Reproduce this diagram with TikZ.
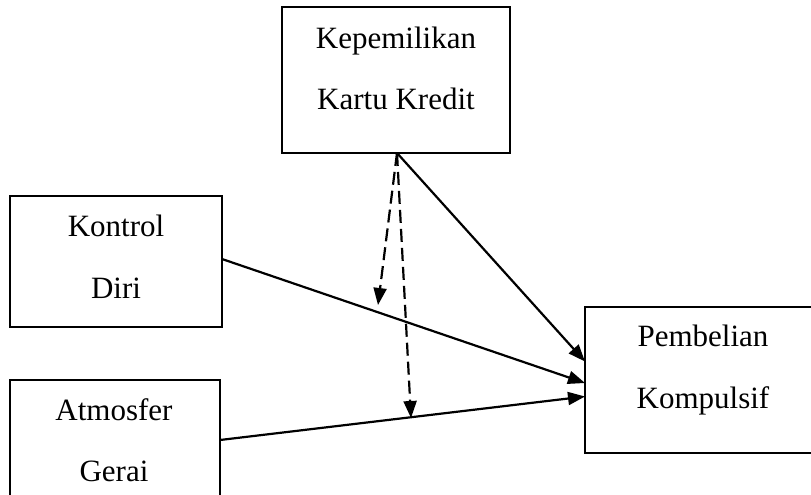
\documentclass[tikz,border=0pt]{standalone}
\usepackage{fontspec}
\setmainfont{Liberation Serif}
\usetikzlibrary{arrows.meta}
\begin{document}
\begin{tikzpicture}[x=1pt,y=-1pt,
  box/.style={draw=black,line width=2pt,rectangle,inner sep=0pt},
  lbl/.style={font=\fontsize{31}{37}\selectfont,anchor=base,inner sep=0pt},
  conn/.style={line width=2.2pt,-{Triangle[length=17pt,width=13pt]}},
  dconn/.style={conn,dash pattern=on 13pt off 6pt}]
\useasboundingbox (0,0) rectangle (811,495);
\clip (0,0) rectangle (811,495);
% boxes
\node[box,minimum width=228pt,minimum height=146pt] (kk) at (396,80) {};
\node[box,minimum width=212pt,minimum height=131pt] (kd) at (116,261.5) {};
\node[box,minimum width=210pt,minimum height=180pt] (ag) at (115,470) {};
\node[box,minimum width=265pt,minimum height=146pt] (pk) at (717.5,380) {};
% labels
\node[lbl] (kk1) at (396,48.3) {Kepemilikan};
\node[lbl] (kk2) at (396,110) {Kartu Kredit};
\node[lbl] (kd1) at (116,236.7) {Kontrol};
\node[lbl] (kd2) at (116,298.3) {Diri};
\node[lbl] (ag1) at (114,420) {Atmosfer};
\node[lbl] (ag2) at (114,481.7) {Gerai};
\node[lbl] (pk1) at (703,346.7) {Pembelian};
\node[lbl] (pk2) at (703,408.3) {Kompulsif};
% connector points
\coordinate (s0) at (397,153);
\coordinate (e1) at (585,361.5);
\coordinate (s2) at (222,259);
\coordinate (e2) at (585,383);
\coordinate (s3) at (220,440);
\coordinate (e3) at (585,396.5);
\coordinate (d1) at (378,305);
\coordinate (d2) at (411,418);
% connectors
\draw[conn] (s0) -- (e1);
\draw[conn] (s2) -- (e2);
\draw[conn] (s3) -- (e3);
\draw[dconn] (s0) -- (d1);
\draw[dconn] (s0) -- (d2);
\end{tikzpicture}
\end{document}
